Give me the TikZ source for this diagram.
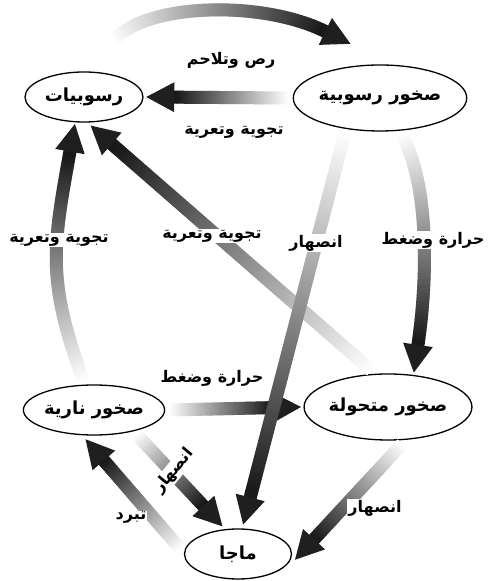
\documentclass[tikz,border=0pt]{standalone}
\usepackage{fontspec}
\usepackage{tikz}
\usetikzlibrary{shapes.geometric,decorations.markings}
\newfontfamily\arabicfont[Script=Arabic]{DejaVu Sans}
\TeXXeTstate=1

\begin{document}
\begin{tikzpicture}[
    x=1pt, y=1pt,
    rock/.style={ellipse, draw, line width=1.3pt, fill=white, inner sep=0pt, outer sep=5pt, font=\arabicfont\bfseries\fontsize{18}{20}\selectfont},
    lbl/.style={fill=white, inner sep=1pt, font=\arabicfont\bfseries\fontsize{16}{18}\selectfont},
    flow/.style={postaction={decorate}, decoration={markings,
        mark=between positions 0 and 1 step 1.5pt with {
            \pgfmathsetmacro\dist{(\pgfkeysvalueof{/pgf/decoration/mark info/sequence number}-1)*1.5}
            \pgfmathsetmacro\plen{\pgfdecoratedpathlength-26}
            \pgfmathsetmacro\tone{min(90,92*(\dist/\plen))}
            \ifdim\dist pt<\plen pt
                \fill[black!\tone] (-1pt,-6.5pt) rectangle (1pt,6.5pt);
                % head on the last piece of the band
                \ifdim\dist pt>\dimexpr\plen pt-1.5pt\relax
                    \fill[black!88] (28pt,0) -- (0,15pt) -- (0,-15pt) -- cycle;
                \fi
            \fi}}}
]
    \useasboundingbox (0,0) rectangle (492,581);

    % Rocks
    \node[rock, minimum width=118pt, minimum height=50pt] (sed) at (84,484) {\beginR رسوبيات\endR};
    \node[rock, minimum width=136pt, minimum height=66pt] (sedrock) at (380,483) {\beginR صخور رسوبية\endR};
    \node[rock, minimum width=133pt, minimum height=50pt] (igneous) at (94,171) {\beginR صخور نارية\endR};
    \node[rock, minimum width=135pt, minimum height=66pt] (meta) at (388,174) {\beginR صخور متحولة\endR};
    \node[rock, minimum width=107pt, minimum height=50pt] (magma) at (238,27) {\beginR ماجا\endR};

    % Free ends of the top arc
    \coordinate (arcA) at ([shift={(30,27)}]sed.north);
    \coordinate (arcB) at ([shift={(-33,15)}]sedrock.north);

    % Arrows
    \path[flow] (arcA) .. controls +(36,41) and +(-57,46) .. (arcB);
    \path[flow] (sedrock.west) -- (sed.east);
    \path[flow] (sedrock.-60) .. controls +(30,-50) and +(15,75) .. (meta.55);
    \path[flow] (meta.115) -- (sed.-75);
    \path[flow] (igneous.110) .. controls +(-40,110) and +(-20,-115) .. (sed.-108);
    \path[flow] (igneous.east) -- (meta.west);
    \path[flow] (igneous.-30) -- (magma.120);
    \path[flow] (magma.175) -- (igneous.-105);
    \path[flow] (meta.-70) -- (magma.-5);
    \node[lbl] (lheat2) at (212,203) {\beginR حرارة وضغط\endR};
    \path[flow] (sedrock.-135) -- (magma.80);

    % Labels
    \node[lbl] (lcompact) at (231,521) {\beginR رص وتلاحم\endR};
    \node[lbl] (lweather1) at (234,449) {\beginR تجوية وتعرية\endR};
    \node[lbl] (lheat1) at (433,341) {\beginR حرارة وضغط\endR};
    \node[lbl] (lmelt1) at (316,338) {\beginR انصهار\endR};
    \node[lbl] (lweather2) at (212,345) {\beginR تجوية وتعرية\endR};
    \node[lbl] (lweather3) at (59,341) {\beginR تجوية وتعرية\endR};
    \node[lbl, rotate=50] (lmelt2) at (174,110) {\beginR انصهار\endR};
    \node[lbl] (lcool) at (131,63) {\beginR تبرد\endR};
    \node[lbl] (lmelt3) at (375,73) {\beginR انصهار\endR};
\end{tikzpicture}
\end{document}
